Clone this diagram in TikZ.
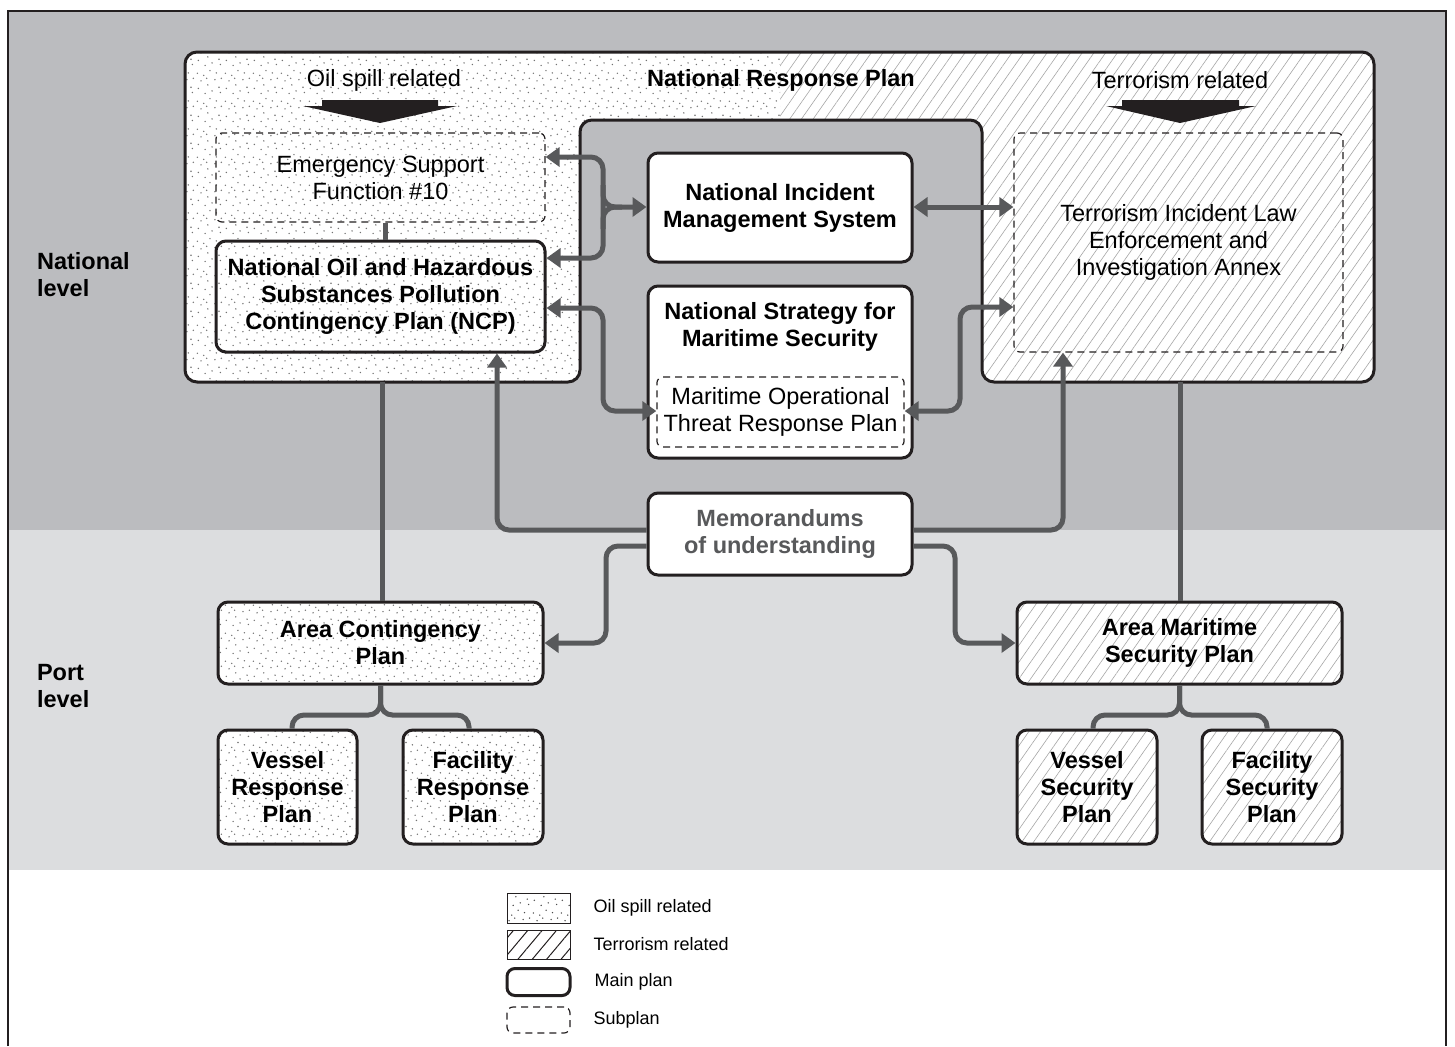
\documentclass[tikz,border=0pt]{standalone}
\RequirePackage{fontspec}
\setmainfont{Liberation Sans}
\RequirePackage{tikz}
\usetikzlibrary{arrows.meta}
\usetikzlibrary{patterns}
\usetikzlibrary{patterns.meta}
\usetikzlibrary{positioning}

\definecolor{natgray}{HTML}{BBBCBF}
\definecolor{portgray}{HTML}{DCDDDF}
\definecolor{linkgray}{HTML}{58595B}
\definecolor{inkblack}{HTML}{231F20}

\pgfdeclarepatternformonly{stipple}{\pgfpointorigin}{\pgfqpoint{14pt}{14pt}}{\pgfqpoint{14pt}{14pt}}{%
    \pgfpathcircle{\pgfqpoint{1.2pt}{3.4pt}}{0.4pt}
    \pgfpathcircle{\pgfqpoint{4.7pt}{0.8pt}}{0.4pt}
    \pgfpathcircle{\pgfqpoint{8.3pt}{2.1pt}}{0.4pt}
    \pgfpathcircle{\pgfqpoint{11.9pt}{4.0pt}}{0.4pt}
    \pgfpathcircle{\pgfqpoint{2.6pt}{7.3pt}}{0.4pt}
    \pgfpathcircle{\pgfqpoint{6.1pt}{5.2pt}}{0.4pt}
    \pgfpathcircle{\pgfqpoint{9.8pt}{7.9pt}}{0.4pt}
    \pgfpathcircle{\pgfqpoint{13.1pt}{8.6pt}}{0.4pt}
    \pgfpathcircle{\pgfqpoint{0.7pt}{11.2pt}}{0.4pt}
    \pgfpathcircle{\pgfqpoint{4.0pt}{10.1pt}}{0.4pt}
    \pgfpathcircle{\pgfqpoint{7.2pt}{12.6pt}}{0.4pt}
    \pgfpathcircle{\pgfqpoint{10.5pt}{11.4pt}}{0.4pt}
    \pgfpathcircle{\pgfqpoint{12.6pt}{1.3pt}}{0.4pt}
    \pgfpathcircle{\pgfqpoint{5.5pt}{8.6pt}}{0.4pt}
    \pgfusepath{fill}}

\begin{document}
\begin{tikzpicture}[x=0.5pt, y=-0.5pt,
        plain/.style={font=\fontsize{11.75}{13.5}\selectfont, align=center},
        heavy/.style={font=\fontsize{11.75}{13.5}\selectfont\bfseries, align=center},
        mainplan/.style={heavy, draw=inkblack, line width=1.5pt, rounded corners=5pt, inner sep=2pt},
        subplan/.style={plain, draw=inkblack, line width=0.6pt, dash pattern=on 3.5pt off 2.5pt, rounded corners=3pt},
        oilfill/.style={preaction={fill=white}, pattern=stipple, pattern color=black!55},
        terrfill/.style={preaction={fill=white}, pattern={Lines[angle=55,distance=4.8pt,line width=0.3pt]}, pattern color=black!35},
        link/.style={draw=linkgray, line width=2.5pt, rounded corners=6pt},
        oneway/.style={link, -{Triangle[length=7pt,width=9.5pt]}},
        twoway/.style={link, {Triangle[length=7pt,width=9.5pt]}-{Triangle[length=7pt,width=9.5pt]}},
        legbox/.style={minimum width=31.5pt, inner sep=0pt},
        legtext/.style={font=\fontsize{9}{11}\selectfont}]

    \useasboundingbox (0,0) rectangle (1455,1046);

    \fill[natgray] (8,11) rectangle (1446,530);
    \fill[portgray] (8,530) rectangle (1446,870);
    \draw[inkblack, line width=1pt] (8,1046) -- (8,11) -- (1446,11) -- (1446,1046);

    \begin{scope}
        \clip[rounded corners=6pt] (185,52) -- (1374,52) -- (1374,382) -- (982,382) -- (982,120)
            -- (580,120) -- (580,382) -- (185,382) -- cycle;
        \fill[white] (185,52) rectangle (1374,382);
        \fill[pattern=stipple, pattern color=black!55] (185,52) rectangle (780,382);
        \fill[pattern={Lines[angle=55,distance=4.8pt,line width=0.3pt]}, pattern color=black!35]
            (780,52) rectangle (1374,382);
    \end{scope}
    \draw[inkblack, line width=1.5pt, rounded corners=6pt] (185,52) -- (1374,52) -- (1374,382) -- (982,382)
        -- (982,120) -- (580,120) -- (580,382) -- (185,382) -- cycle;

    \coordinate (oilfoot) at (382,382);
    \coordinate (terrfoot) at (1180,382);

    \node[plain] (oiltitle) at (384,80) {Oil spill related};
    \node[heavy] (nrptitle) at (781,80) {National Response Plan};
    \node[plain] (terrtitle) at (1180,80) {Terrorism related};

    \fill[inkblack] (322,100) -- (438,100) -- (438,106) -- (457,106) -- (380,123) -- (303,106) -- (322,106) -- cycle;
    \fill[inkblack] (1122,100) -- (1239,100) -- (1239,106) -- (1256,106) -- (1180,123) -- (1106,106) -- (1122,106) -- cycle;

    \node[heavy, anchor=west, align=left] (natlevel) at (30,275) {National\\level};
    \node[heavy, anchor=west, align=left] (portlevel) at (30,686) {Port\\level};

    \node[subplan, minimum width=164.5pt, minimum height=44.5pt] (esf) at (380.5,177.5) {Emergency Support\\Function \#10};
    \node[mainplan, minimum width=164.5pt, minimum height=55.5pt] (ncp) at (380.5,296.5)
        {National Oil and Hazardous\\Substances Pollution\\Contingency Plan (NCP)};
    \node[subplan, minimum width=164.5pt, minimum height=109.5pt] (tileia) at (1178.5,242.5)
        {Terrorism Incident Law\\Enforcement and\\Investigation Annex};
    \node[mainplan, fill=white, minimum width=132pt, minimum height=54.5pt] (nims) at (780,207.5)
        {National Incident\\Management System};
    \node[mainplan, fill=white, minimum width=132pt, minimum height=86pt] (nsms) at (780,372) {};
    \node[heavy] (nsmstitle) at (780,326.5) {National Strategy for\\Maritime Security};
    \node[subplan, minimum width=118.5pt, minimum height=35pt] (motrp) at (780.5,412)
        {Maritime Operational\\Threat Response Plan};
    \node[mainplan, fill=white, text=linkgray, minimum width=132pt, minimum height=41pt] (mou) at (780,534)
        {Memorandums\\of understanding};

    \node[mainplan, oilfill, minimum width=162.5pt, minimum height=41pt] (acp) at (380.5,643) {Area Contingency\\Plan};
    \node[mainplan, oilfill, minimum width=69.5pt, minimum height=57pt] (vrp) at (287.5,787) {Vessel\\Response\\Plan};
    \node[mainplan, oilfill, minimum width=70pt, minimum height=57pt] (frp) at (473,787) {Facility\\Response\\Plan};
    \node[mainplan, terrfill, minimum width=162.5pt, minimum height=41pt] (amsp) at (1179.5,643)
        {Area Maritime\\Security Plan};
    \node[mainplan, terrfill, minimum width=70pt, minimum height=57pt] (vsp) at (1087,787) {Vessel\\Security\\Plan};
    \node[mainplan, terrfill, minimum width=70pt, minimum height=57pt] (fsp) at (1272,787) {Facility\\Security\\Plan};

    \draw[link] (esf.south -| 385,0) -- (ncp.north -| 385,0);
    \draw[twoway] (esf.east |- 0,157) -- (603,157) -- (603,258) -- (ncp.east |- 0,258);
    \draw[oneway] (603,185) -- (603,207) -- (nims.west |- 0,207);
    \draw[link] (603,229) -- (603,207) -- (622,207);
    \draw[twoway] (ncp.east |- 0,308) -- (603,308) -- (603,411) -- (motrp.west |- 0,411);
    \draw[twoway] (nims.east |- 0,207) -- (tileia.west |- 0,207);
    \draw[twoway] (motrp.east |- 0,411) -- (960,411) -- (960,307) -- (tileia.west |- 0,307);

    \draw[oneway] (mou.west |- 0,530) -- (497,530) -- (ncp.south -| 497,0);
    \draw[oneway] (mou.east |- 0,530) -- (1063,530) -- (tileia.south -| 1063,0);
    \draw[oneway] (mou.west |- 0,546) -- (606,546) -- (606,643) -- (acp.east |- 0,643);
    \draw[oneway] (mou.east |- 0,546) -- (955,546) -- (955,643) -- (amsp.west |- 0,643);

    \draw[link] (oilfoot) -- (oilfoot |- acp.north);
    \draw[link] (terrfoot) -- (terrfoot |- amsp.north);

    \draw[link] (acp.south) -- (acp.south |- 0,715) -| (vrp.north -| 292,0);
    \draw[link] (acp.south) -- (acp.south |- 0,715) -| (frp.north -| 469,0);
    \draw[link] (amsp.south) -- (amsp.south |- 0,715) -| (vsp.north -| 1093,0);
    \draw[link] (amsp.south) -- (amsp.south |- 0,715) -| (fsp.north -| 1267,0);

    \node[legbox, draw=inkblack, line width=0.5pt, pattern=stipple, pattern color=black!70, minimum height=15pt] (legoil) at (538.5,908) {};
    \node[legbox, draw=inkblack, line width=0.5pt, pattern={Lines[angle=50,distance=5.5pt,line width=0.5pt]},
        pattern color=inkblack, minimum height=14.5pt] (legterr) at (538.5,944.5) {};
    \node[legbox, draw=inkblack, line width=1.5pt, rounded corners=4pt, minimum height=13.5pt] (legmain) at (538.5,982) {};
    \node[legbox, draw=inkblack, line width=0.6pt, dash pattern=on 3.5pt off 2.5pt, rounded corners=3pt,
        minimum height=13pt] (legsub) at (538.5,1020) {};
    \node[legtext, right=8pt of legoil] (legoiltext) {Oil spill related};
    \node[legtext, right=8pt of legterr] (legterrtext) {Terrorism related};
    \node[legtext, right=8pt of legmain] (legmaintext) {Main plan};
    \node[legtext, right=8pt of legsub] (legsubtext) {Subplan};
\end{tikzpicture}
\end{document}
